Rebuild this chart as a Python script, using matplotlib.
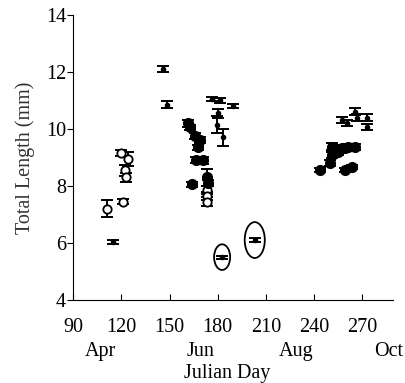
import matplotlib.pyplot as plt
from matplotlib.patches import Ellipse

plt.rcParams['font.family'] = 'Liberation Serif'

# open circles
open_day = [111, 121, 120, 124, 122, 123, 173, 173, 173]
open_len = [7.2, 7.45, 9.15, 8.95, 8.55, 8.3, 7.85, 7.65, 7.45]
open_err = [0.3, 0.1, 0.1, 0.25, 0.2, 0.15, 0.15, 0.15, 0.15]

# filled circles
fill_day = [161.5, 163, 166, 169, 168, 166.5, 171, 164, 173.5, 174,
            243.7, 250, 251, 251, 255, 257.4, 259, 261, 265.5, 259, 263.6]
fill_len = [10.2, 10.05, 9.75, 9.6, 9.35, 8.9, 8.9, 8.05, 8.3, 8.1,
            8.56, 8.8, 9.09, 9.37, 9.19, 9.33, 9.33, 9.37, 9.37, 8.56, 8.67]
fill_err = [0.12, 0.1, 0.1, 0.1, 0.1, 0.1, 0.12, 0.1, 0.3, 0.1,
            0.08, 0.1, 0.1, 0.12, 0.1, 0.1, 0.1, 0.1, 0.1, 0.08, 0.08]

# small dots
dot_day = [146, 148.5, 176.5, 181.5, 189.5, 180, 179.5, 183, 115, 182.7, 203,
           257.4, 260.5, 265.5, 266.7, 273, 273]
dot_len = [12.1, 10.85, 11.05, 11.0, 10.8, 10.55, 10.15, 9.7, 6.03, 5.5, 6.1,
           10.32, 10.21, 10.6, 10.39, 10.39, 10.07]
dot_err = [0.12, 0.12, 0.08, 0.08, 0.06, 0.15, 0.3, 0.3, 0.08, 0.05, 0.08,
           0.1, 0.1, 0.12, 0.12, 0.12, 0.12]

months = ['Apr', 'Jun', 'Aug', 'Oct']
month_pos = [107, 169, 229, 286]

fig = plt.figure(figsize=(4.06, 3.83), dpi=100)
ax = fig.add_axes([0.18, 0.217, 0.788, 0.744])

kw = dict(fmt='none', ecolor='black', elinewidth=1.4, capsize=4.5, capthick=1.4)
ax.errorbar(open_day, open_len, yerr=open_err, **kw)
ax.errorbar(fill_day, fill_len, yerr=fill_err, **kw)
ax.errorbar(dot_day, dot_len, yerr=dot_err, **kw)
ax.plot(open_day, open_len, 'o', mfc='white', mec='black', mew=1.3, ms=6, ls='none')
ax.plot(fill_day, fill_len, 'o', color='black', ms=7, ls='none')
ax.plot(dot_day, dot_len, 'o', color='black', ms=3, ls='none')

ax.add_patch(Ellipse((182.7, 5.5), 10, 0.9, fill=False, lw=1.3))
ax.add_patch(Ellipse((203, 6.1), 12.5, 1.26, fill=False, lw=1.3))

ax.set_xlim(90, 289)
ax.set_ylim(4, 14)
ax.set_xticks([90, 120, 150, 180, 210, 240, 270])
ax.set_yticks([4, 6, 8, 10, 12, 14])
ax.spines['top'].set_visible(False)
ax.spines['right'].set_visible(False)
ax.tick_params(axis='y', direction='out', length=4, labelsize=14.5, pad=1)
ax.tick_params(axis='x', direction='in', length=4, labelsize=14.5, pad=13)
ax.set_ylabel('Total Length (mm)', fontsize=14.5, color='#333333', labelpad=8)

for m, p in zip(months, month_pos):
    ax.text(p, -0.148, m, transform=ax.get_xaxis_transform(), ha='center',
            va='top', fontsize=14.5)
ax.text(186, -0.225, 'Julian Day', transform=ax.get_xaxis_transform(),
        ha='center', va='top', fontsize=14.5)

plt.savefig('out.png', dpi=100)
